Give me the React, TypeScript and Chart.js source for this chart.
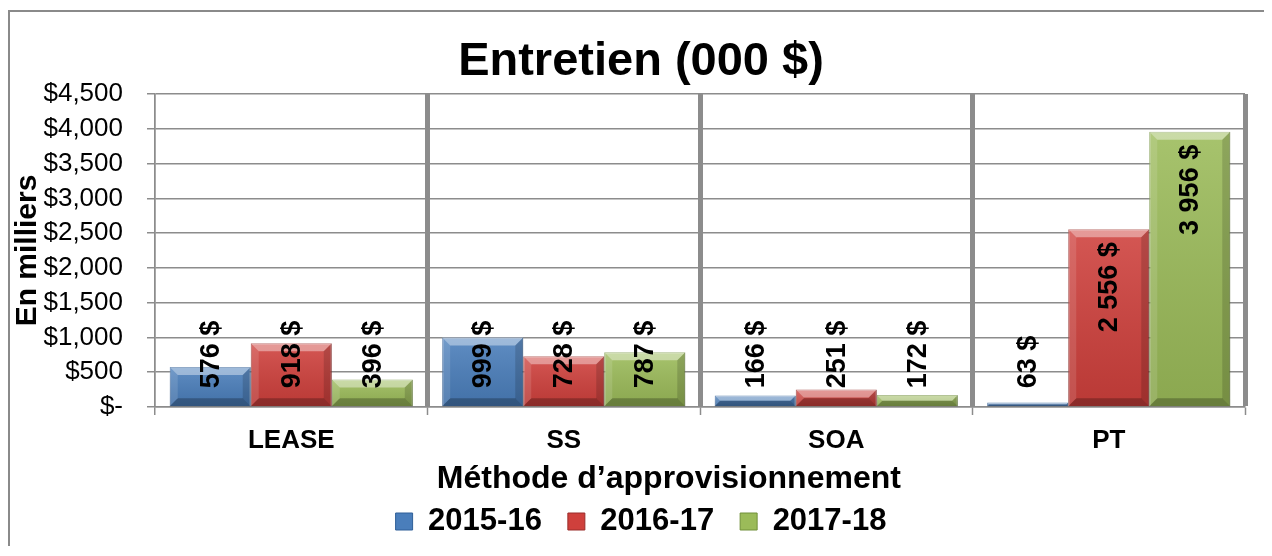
import React, { useEffect, useRef } from "react";
import { Chart, registerables } from "chart.js";

Chart.register(...registerables);

const categories = ["LEASE", "SS", "SOA", "PT"];
const seriesNames = ["2015-16", "2016-17", "2017-18"];
const values1516 = [576, 999, 166, 63];
const values1617 = [918, 728, 251, 2556];
const values1718 = [396, 787, 172, 3956];
const labels1516 = ["576 $", "999 $", "166 $", "63 $"];
const labels1617 = ["918 $", "728 $", "251 $", "2 556 $"];
const labels1718 = ["396 $", "787 $", "172 $", "3 956 $"];
const yTickValues = [0, 500, 1000, 1500, 2000, 2500, 3000, 3500, 4000, 4500];
const yTickLabels = ["$-", "$500", "$1,000", "$1,500", "$2,000", "$2,500", "$3,000", "$3,500", "$4,000", "$4,500"];

const seriesValues = [values1516, values1617, values1718];
const seriesLabels = [labels1516, labels1617, labels1718];

const FONT = "'Liberation Sans', Arial, Helvetica, sans-serif";
const baseColors = ["#4a7ebb", "#cf403c", "#9bbb59"];
const darkColors = ["#2f5f98", "#9a2d2a", "#71903a"];
const GRID = "#8c8c8c";

function poly(ctx: CanvasRenderingContext2D, pts: number[][], fill: string) {
  ctx.beginPath();
  ctx.moveTo(pts[0][0], pts[0][1]);
  for (let i = 1; i < pts.length; i++) ctx.lineTo(pts[i][0], pts[i][1]);
  ctx.closePath();
  ctx.fillStyle = fill;
  ctx.fill();
}

const bevelPlugin = {
  id: "bevel",
  afterDatasetDraw(chart: any, args: any) {
    const ctx: CanvasRenderingContext2D = chart.ctx;
    const meta = args.meta;
    ctx.save();
    meta.data.forEach((el: any) => {
      const { x, y, base, width } = el.getProps(["x", "y", "base", "width"], true);
      const l = x - width / 2;
      const r = x + width / 2;
      const t = Math.min(y, base);
      const b = Math.max(y, base);
      const h = b - t;
      if (h <= 0) return;
      const bv = Math.min(8, h / 2, width / 2);
      const g = ctx.createLinearGradient(0, t, 0, b);
      g.addColorStop(0, "rgba(255,255,255,0.12)");
      g.addColorStop(1, "rgba(0,0,0,0.10)");
      ctx.fillStyle = g;
      ctx.fillRect(l, t, width, h);
      poly(ctx, [[l, t], [r, t], [r - bv, t + bv], [l + bv, t + bv]], "rgba(255,255,255,0.40)");
      poly(ctx, [[l, b], [r, b], [r - bv, b - bv], [l + bv, b - bv]], "rgba(0,0,0,0.25)");
      poly(ctx, [[l, t], [l + bv, t + bv], [l + bv, b - bv], [l, b]], "rgba(255,255,255,0.12)");
      poly(ctx, [[r, t], [r - bv, t + bv], [r - bv, b - bv], [r, b]], "rgba(0,0,0,0.15)");
    });
    ctx.restore();
  },
};

const valueLabelPlugin = {
  id: "valueLabels",
  afterDatasetsDraw(chart: any) {
    const ctx: CanvasRenderingContext2D = chart.ctx;
    ctx.save();
    ctx.font = `bold 27px ${FONT}`;
    ctx.fillStyle = "#000";
    ctx.textAlign = "left";
    ctx.textBaseline = "middle";
    chart.data.datasets.forEach((_ds: any, di: number) => {
      const meta = chart.getDatasetMeta(di);
      meta.data.forEach((el: any, i: number) => {
        const text = seriesLabels[di][i];
        const { x, y, base } = el.getProps(["x", "y", "base"], true);
        const L = ctx.measureText(text).width;
        const top = Math.min(y, base);
        const bottom = Math.max(y, base);
        let start = top + 13 + L;
        if (start > bottom - 18) start = bottom - 18;
        ctx.save();
        ctx.translate(x, start);
        ctx.rotate(-Math.PI / 2);
        ctx.fillText(text, 0, 1);
        ctx.restore();
      });
    });
    ctx.restore();
  },
};

export default function App() {
  const ref = useRef<HTMLCanvasElement>(null);

  useEffect(() => {
    if (!ref.current) return;
    const chart = new Chart(ref.current, {
      type: "bar",
      data: {
        labels: categories,
        datasets: seriesNames.map((name, i) => ({
          label: name,
          data: seriesValues[i],
          backgroundColor: baseColors[i],
          borderColor: darkColors[i],
          borderWidth: 1,
          categoryPercentage: 0.892,
          barPercentage: 1.0,
        })),
      },
      options: {
        responsive: false,
        animation: false,
        layout: { padding: { left: 0, right: 0, top: 0, bottom: 9 } },
        plugins: {
          title: {
            display: true,
            text: "Entretien (000 $)",
            color: "#000",
            font: { family: FONT, size: 47, weight: "bold", lineHeight: 1.2 },
            padding: { top: 22, bottom: 3.6 },
          },
          legend: {
            position: "bottom",
            labels: {
              color: "#000",
              font: { family: FONT, size: 31, weight: "bold" },
              boxWidth: 17,
              boxHeight: 17,
              padding: 26,
            },
          },
          tooltip: { enabled: false },
        },
        scales: {
          x: {
            offset: true,
            grid: {
              offset: true,
              color: GRID,
              lineWidth: (c: any) => (c.index === 0 ? 1.5 : 5),
              tickLength: 8,
              tickWidth: 1.5,
              tickColor: GRID,
            },
            border: { display: true, color: GRID, width: 1.5 },
            ticks: {
              color: "#000",
              font: { family: FONT, size: 26, weight: "bold" },
              padding: 10,
              maxRotation: 0,
            },
            title: {
              display: true,
              text: "Méthode d’approvisionnement\u00A0\u00A0\u00A0\u00A0\u00A0\u00A0\u00A0",
              color: "#000",
              font: { family: FONT, size: 32, weight: "bold", lineHeight: 1.2 },
              padding: { top: 0, bottom: -18 },
            },
            afterFit: (s: any) => {
              s.height = 73;
            },
          },
          y: {
            min: 0,
            max: 4500,
            afterBuildTicks: (s: any) => {
              s.ticks = yTickValues.map((v) => ({ value: v }));
            },
            ticks: {
              color: "#000",
              font: { family: FONT, size: 26 },
              padding: 24,
              callback: (v: any) => {
                const idx = yTickValues.indexOf(Number(v));
                return idx >= 0 ? yTickLabels[idx] : "";
              },
            },
            grid: { color: GRID, lineWidth: 1.5, tickLength: 8, tickColor: GRID },
            border: { display: true, color: GRID, width: 1.5 },
            title: {
              display: true,
              text: "En milliers",
              color: "#000",
              font: { family: FONT, size: 30, weight: "bold", lineHeight: 1.2 },
              padding: 0,
            },
            afterFit: (s: any) => {
              s.width = 145;
            },
          },
          yRight: {
            type: "linear",
            position: "right",
            display: true,
            grid: { display: false },
            ticks: { display: false },
            border: { display: false },
            afterFit: (s: any) => {
              s.width = 27;
            },
          },
        },
      } as any,
      plugins: [bevelPlugin, valueLabelPlugin],
    });
    return () => chart.destroy();
  }, []);

  return (
    <div style={{ paddingTop: 2 }}>
      <div
        style={{
          width: 1256,
          height: 536,
          boxSizing: "border-box",
          borderLeft: "2px solid #8a8a8a",
          borderTop: "2px solid #8a8a8a",
          overflow: "hidden",
        }}
      >
        <canvas ref={ref} width={1262} height={544} style={{ display: "block" }} />
      </div>
    </div>
  );
}
